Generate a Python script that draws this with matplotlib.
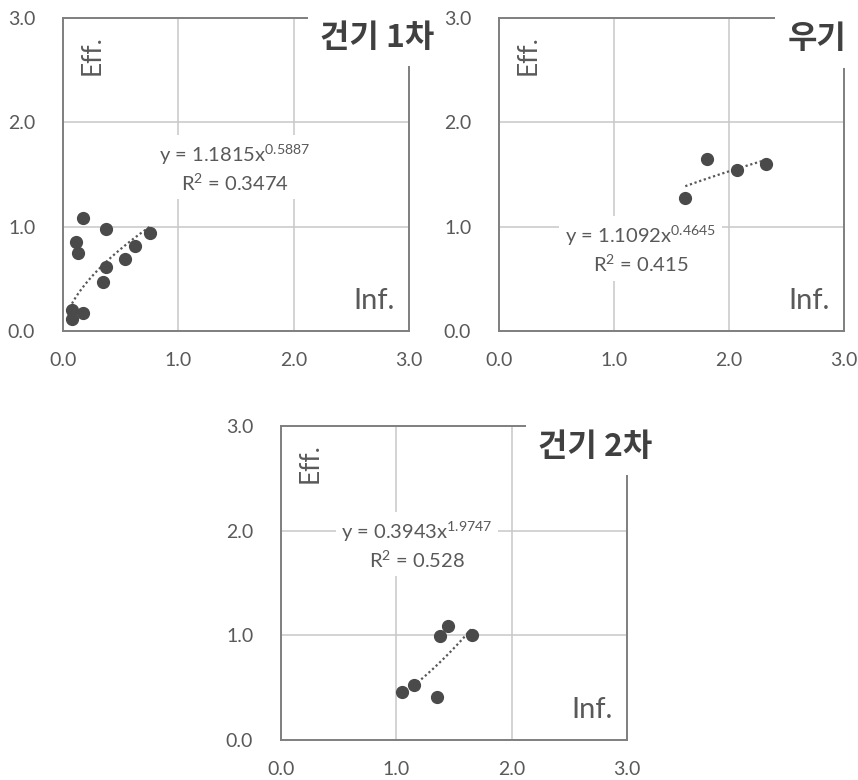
import numpy as np
import matplotlib
matplotlib.use("Agg")
import matplotlib.pyplot as plt

plt.rcParams['font.family'] = ['Lato', 'Noto Sans CJK KR', 'DejaVu Sans']
plt.rcParams['mathtext.fontset'] = 'custom'
plt.rcParams['mathtext.rm'] = 'Lato'
plt.rcParams['mathtext.it'] = 'Lato'

dry1_x = [0.173, 0.376, 0.11, 0.133, 0.62, 0.75, 0.535, 0.376, 0.347, 0.078, 0.08, 0.173]
dry1_y = [1.08, 0.98, 0.85, 0.745, 0.81, 0.94, 0.69, 0.61, 0.47, 0.20, 0.115, 0.17]
wet_x = [1.62, 1.81, 2.07, 2.325]
wet_y = [1.276, 1.65, 1.545, 1.596]
dry2_x = [1.05, 1.155, 1.35, 1.377, 1.452, 1.657]
dry2_y = [0.455, 0.525, 0.41, 0.99, 1.09, 1.006]

titles = ["건기 1차", "우기", "건기 2차"]
coefs = [(1.1815, 0.5887), (1.1092, 0.4645), (0.3943, 1.9747)]
coef_txt = [("1.1815", "0.5887", "0.3474"), ("1.1092", "0.4645", "0.415"),
            ("0.3943", "1.9747", "0.528")]
eq_pos = [(1.49, 1.56), (1.23, 0.78), (1.18, 1.86)]

W, H = 858, 780
fig = plt.figure(figsize=(W / 100, H / 100), dpi=100)
boxes = [(63, 18, 346, 313), (499, 18, 345, 313), (281, 426, 346, 314)]
data = [(dry1_x, dry1_y), (wet_x, wet_y), (dry2_x, dry2_y)]
title_pos = [(0.908, 0.936), (0.922, 0.932), (0.908, 0.933)]

grey = '#595959'
for i, (l, t, w, h) in enumerate(boxes):
    ax = fig.add_axes([l / W, 1 - (t + h) / H, w / W, h / H])
    xs, ys = data[i]
    ax.set_xlim(0, 3)
    ax.set_ylim(0, 3)
    ax.set_xticks([0, 1, 2, 3])
    ax.set_yticks([0, 1, 2, 3])
    ax.set_xticklabels(['0.0', '1.0', '2.0', '3.0'])
    ax.set_yticklabels(['0.0', '1.0', '2.0', '3.0'])
    ax.tick_params(length=0, labelsize=14, colors=grey)
    ax.tick_params(axis='y', pad=20)
    ax.tick_params(axis='x', pad=15)
    ax.grid(True, color='#c8c8c8', lw=1.1)
    ax.set_axisbelow(True)
    for s in ax.spines.values():
        s.set_color('#7f7f7f')
        s.set_linewidth(1.4)

    a, b = coefs[i]
    fx = np.linspace(min(xs), max(xs), 100)
    ax.plot(fx, a * fx ** b, ls=(0, (1, 1.2)), color=grey, lw=1.6, zorder=3)
    ax.plot(xs, ys, 'o', color='#4a4a4a', ms=8.5, zorder=4)

    c, e, r = coef_txt[i]
    ax.text(eq_pos[i][0], eq_pos[i][1],
            "y = " + c + "x$^{" + e + "}$\nR$^{2}$ = " + r,
            ha='center', va='center', fontsize=14.5, color=grey,
            linespacing=1.3, zorder=5,
            bbox=dict(facecolor='white', edgecolor='none', pad=4))

    ax.text(0.96, 0.055, "Inf.", transform=ax.transAxes, ha='right',
            va='bottom', fontsize=21, color=grey, zorder=5)
    ax.text(0.084, 0.946, "Eff.", transform=ax.transAxes, ha='center',
            va='top', rotation=90, fontsize=19, color=grey, zorder=5)
    tx, ty = title_pos[i]
    ax.text(tx, ty, titles[i], transform=ax.transAxes, ha='center',
            va='center', fontsize=23, fontweight='bold', color='#404040',
            family=['Noto Sans CJK KR'], zorder=6, clip_on=False,
            bbox=dict(facecolor='white', edgecolor='none', pad=9))

fig.savefig("out.png", dpi=100)
